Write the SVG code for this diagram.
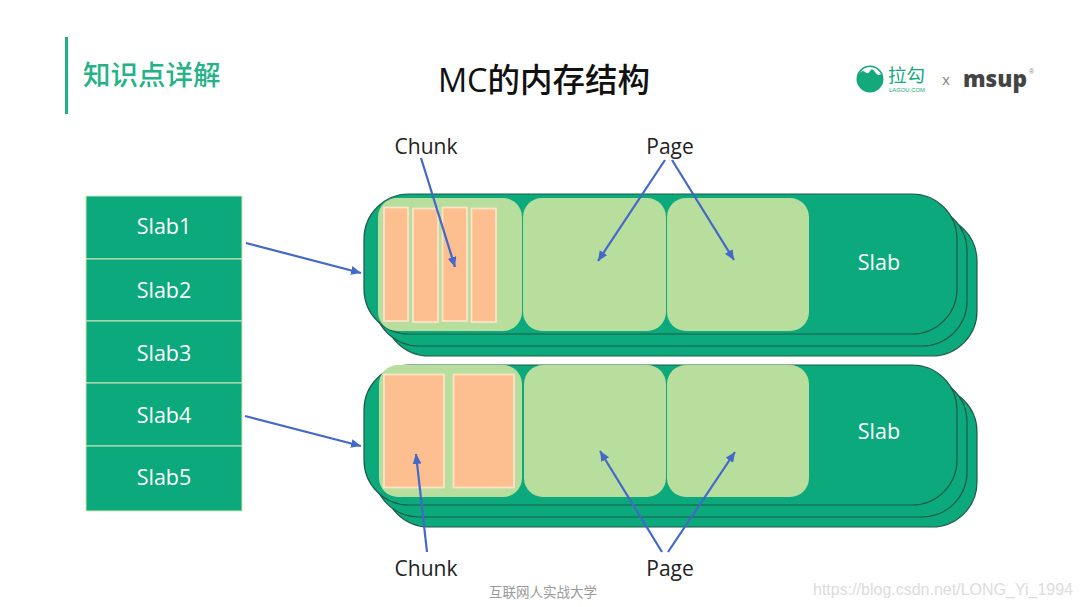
<svg xmlns="http://www.w3.org/2000/svg" width="1081" height="607" viewBox="0 0 1081 607">
<style>
text{font-family:"Open Sans","Noto Sans CJK SC",sans-serif}
.cjk{font-family:"Noto Sans CJK SC",sans-serif}
.slab{fill:#0BA97B;stroke:#1E5A49;stroke-width:1.2}
.page{fill:#B7DE9D}
.chunk{fill:#FDBF8F;stroke:#FCE3C8;stroke-width:1.8}
.cell{fill:#0BA97B;stroke:#CFE6B8;stroke-width:1}
.w{fill:#fff;font-size:21.5px;text-anchor:middle}
.k{fill:#222;font-size:21px;text-anchor:middle}
.arr{stroke:#4468C8;stroke-width:2.2;fill:none;marker-end:url(#a)}
</style>
<defs><marker id="a" markerUnits="userSpaceOnUse" markerWidth="11" markerHeight="10" refX="10" refY="4.5" orient="auto"><path d="M0 0L10 4.5L0 9Z" fill="#4468C8"/></marker></defs>
<rect width="1081" height="607" fill="#fff"/>
<g id="header">
<rect x="65" y="37" width="3" height="77" fill="#1DB183"/>
<text class="cjk" x="83" y="85" font-size="27.500" font-weight="500" fill="#26B287">知识点详解</text>
<text x="544" y="92" font-size="32.500" font-weight="500" text-anchor="middle" fill="#111">MC<tspan class="cjk">的内存结构</tspan></text>
</g>
<g id="logo">
<circle cx="870" cy="79" r="13.500" fill="#14A97D"/>
<path d="M859 74Q862 69 865 72T870 71T875 72T881 74Q877 67 870 67T859 74Z" fill="#fff"/>
<text class="cjk" x="888" y="82" font-size="18.500" fill="#14A97D">拉勾</text>
<text x="889" y="92" font-size="5.500" fill="#14A97D" textLength="36" lengthAdjust="spacingAndGlyphs" style="font-family:'Liberation Sans',sans-serif">LAGOU.COM</text>
<text x="946" y="85" font-size="15" text-anchor="middle" fill="#888" style="font-family:'Liberation Sans',sans-serif">x</text>
<text x="963" y="87" font-size="23" font-weight="800" fill="#444" textLength="64" lengthAdjust="spacingAndGlyphs">msup</text>
<text x="1029" y="74" font-size="7" fill="#888" style="font-family:'Liberation Sans',sans-serif">®</text>
</g>
<g id="slab-table">
<g id="slab1"><rect class="cell" x="86" y="196" width="156" height="63"/><text class="w" x="164" y="234">Slab1</text></g>
<g id="slab2"><rect class="cell" x="86" y="259" width="156" height="62"/><text class="w" x="164" y="298">Slab2</text></g>
<g id="slab3"><rect class="cell" x="86" y="321" width="156" height="62"/><text class="w" x="164" y="361">Slab3</text></g>
<g id="slab4"><rect class="cell" x="86" y="383" width="156" height="63"/><text class="w" x="164" y="423">Slab4</text></g>
<g id="slab5"><rect class="cell" x="86" y="446" width="156" height="65"/><text class="w" x="164" y="485">Slab5</text></g>
</g>
<g id="stack-top">
<rect class="slab" x="384" y="216" width="593" height="140" rx="45"/>
<rect class="slab" x="374" y="206" width="593" height="140" rx="45"/>
<rect class="slab" x="364" y="194" width="593" height="140" rx="45"/>
<rect class="page" x="378" y="198" width="144" height="133" rx="19"/>
<rect class="page" x="523" y="198" width="143" height="133" rx="19"/>
<rect class="page" x="667" y="198" width="142" height="133" rx="19"/>
<rect class="chunk" x="384" y="207.500" width="24" height="113.500"/>
<rect class="chunk" x="413" y="208.500" width="25" height="113.500"/>
<rect class="chunk" x="442.500" y="207.500" width="24.500" height="113.500"/>
<rect class="chunk" x="471.500" y="208.500" width="24.500" height="113.500"/>
<text class="w" x="879" y="270">Slab</text>
</g>
<g id="stack-bottom">
<rect class="slab" x="384" y="387" width="593" height="140" rx="45"/>
<rect class="slab" x="374" y="377" width="593" height="140" rx="45"/>
<rect class="slab" x="364" y="365" width="593" height="140" rx="45"/>
<rect class="page" x="379" y="365" width="143" height="132" rx="19"/>
<rect class="page" x="524" y="365" width="142" height="132" rx="19"/>
<rect class="page" x="667" y="365" width="142" height="132" rx="19"/>
<rect class="chunk" x="384" y="374.500" width="60" height="113"/>
<rect class="chunk" x="453.500" y="374.500" width="60.500" height="113"/>
<text class="w" x="879" y="439">Slab</text>
</g>
<g id="connectors">
<path class="arr" d="M246 243L361 273"/>
<path class="arr" d="M245 416L361 446"/>
<path class="arr" d="M421 158L455 267"/>
<path class="arr" d="M665 160L598 261"/>
<path class="arr" d="M672 160L734 260"/>
<path class="arr" d="M427 552L416 454"/>
<path class="arr" d="M662 552L600 451"/>
<path class="arr" d="M668 552L735 452"/>
</g>
<g id="labels">
<text class="k" x="426" y="154">Chunk</text>
<text class="k" x="670" y="154">Page</text>
<text class="k" x="426" y="576">Chunk</text>
<text class="k" x="670" y="576">Page</text>
</g>
<g id="footer">
<text class="cjk" x="489" y="597" font-size="13.500" fill="#999">互联网人实战大学</text>
<text x="813" y="595" font-size="16" fill="#dcdcdc" style="font-family:'Liberation Sans',sans-serif">https://blog.csdn.net/LONG_Yi_1994</text>
</g>
</svg>
